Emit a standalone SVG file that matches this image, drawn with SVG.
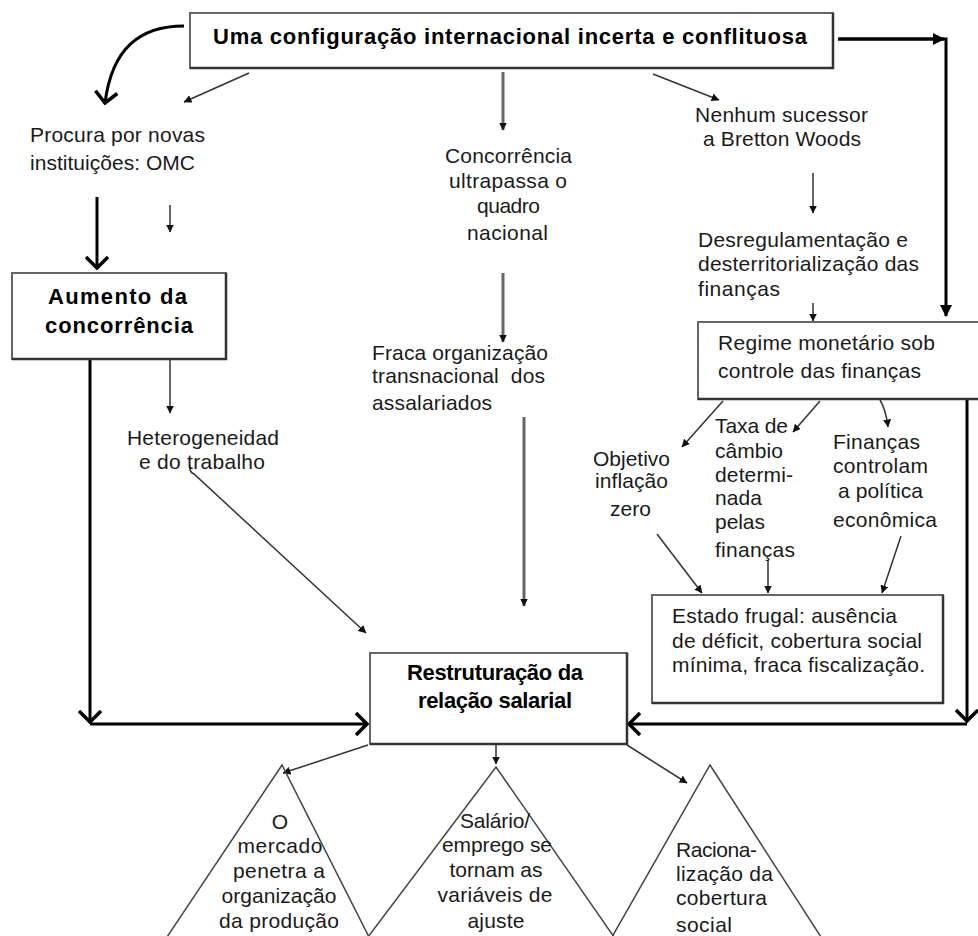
<svg xmlns="http://www.w3.org/2000/svg" width="978" height="936" viewBox="0 0 978 936">
  <style>
    .t { font-family: "Liberation Sans", Arial, sans-serif; font-size: 21px; fill: #1a1a1a; }
    .b { font-weight: bold; font-size: 22px; fill: #000; }
    .c { text-anchor: middle; }
    .box { fill: #fff; stroke: #666; stroke-width: 2; }
    .edge { stroke: #333; stroke-width: 2.5; fill: none; }
    .thick { stroke: #000; stroke-width: 3; fill: none; }
    .thin { stroke: #333; stroke-width: 1.5; fill: none; }
    .gray { stroke: #666; stroke-width: 3; fill: none; }
    .tri { stroke: #444; stroke-width: 1.5; fill: none; }
  </style>
  <defs>
    <marker id="vee" viewBox="0 0 14 24" markerWidth="14" markerHeight="24" refX="12" refY="12" orient="auto" markerUnits="userSpaceOnUse">
      <path d="M1,1 L12,12 L1,23" fill="none" stroke="#000" stroke-width="3.5"/>
    </marker>
    <marker id="solid" viewBox="0 0 12 12" markerWidth="12" markerHeight="12" refX="11" refY="6" orient="auto" markerUnits="userSpaceOnUse">
      <path d="M0,0 L12,6 L0,12 z" fill="#000"/>
    </marker>
    <marker id="small" viewBox="0 0 8 8" markerWidth="8" markerHeight="8" refX="7.5" refY="4" orient="auto" markerUnits="userSpaceOnUse">
      <path d="M0,0 L8,4 L0,8 z" fill="#111"/>
    </marker>
  </defs>

  <!-- connectors -->
  <g id="connectors">
    <path class="thick" d="M184,26 C140,26 112,48 105,103" marker-end="url(#vee)"/>
    <line class="thin" x1="249" y1="73" x2="184" y2="102" marker-end="url(#small)"/>
    <line class="gray" x1="503" y1="72" x2="503" y2="130" marker-end="url(#small)"/>
    <line class="thin" x1="653" y1="74" x2="719" y2="100" marker-end="url(#small)"/>
    <polyline class="thick" points="838,39 946,39 946,316" marker-end="url(#solid)"/>
    <line class="thick" x1="838" y1="39" x2="944" y2="39" marker-end="url(#solid)"/>
    <line class="thick" x1="97" y1="197" x2="97" y2="268" marker-end="url(#vee)"/>
    <line class="thin" x1="170" y1="205" x2="170" y2="232" marker-end="url(#small)"/>
    <line class="thin" x1="813" y1="173" x2="813" y2="213" marker-end="url(#small)"/>
    <line class="gray" x1="503" y1="273" x2="503" y2="342" marker-end="url(#small)"/>
    <line class="thin" x1="813" y1="303" x2="813" y2="321" marker-end="url(#small)"/>
    <line class="thin" x1="723" y1="401" x2="682" y2="447" marker-end="url(#small)"/>
    <line class="thin" x1="820" y1="401" x2="793" y2="432" marker-end="url(#small)"/>
    <path class="thin" d="M880,400 Q886,410 888,427" marker-end="url(#small)"/>
    <line class="thick" x1="90" y1="359" x2="90" y2="722" marker-end="url(#vee)"/>
    <line class="thick" x1="90" y1="724" x2="367" y2="724" marker-end="url(#vee)"/>
    <line class="thin" x1="170" y1="355" x2="170" y2="413" marker-end="url(#small)"/>
    <path class="thin" d="M190,466 Q189,472 194,474 L366,633" marker-end="url(#small)"/>
    <line class="gray" x1="524" y1="417" x2="524" y2="606" marker-end="url(#small)"/>
    <line class="thick" x1="967" y1="400" x2="967" y2="721" marker-end="url(#vee)"/>
    <line class="thick" x1="967" y1="724" x2="629" y2="724" marker-end="url(#vee)"/>
    <line class="thin" x1="657" y1="534" x2="702" y2="593" marker-end="url(#small)"/>
    <line class="thin" x1="768" y1="560" x2="768" y2="593" marker-end="url(#small)"/>
    <line class="thin" x1="901" y1="536" x2="882" y2="593" marker-end="url(#small)"/>
    <line class="thin" x1="368" y1="745" x2="283" y2="773" marker-end="url(#small)"/>
    <line class="thin" x1="496" y1="745" x2="496" y2="764" marker-end="url(#small)"/>
    <line class="thin" x1="627" y1="745" x2="687" y2="783" marker-end="url(#small)"/>
  </g>

  <!-- top box -->
  <g id="config">
    <rect class="box" x="190" y="13" width="643" height="55"/>
    <path class="edge" d="M190,68 H833 V13"/>
    <text class="t b" x="213" y="44" textLength="594">Uma configuração internacional incerta e conflituosa</text>
  </g>

  <g id="procura">
    <text class="t" x="30" y="142" textLength="175">Procura por novas</text>
    <text class="t" x="30" y="170" textLength="165">instituições: OMC</text>
  </g>

  <g id="concorrencia-nacional">
    <text class="t" x="445" y="163" textLength="127">Concorrência</text>
    <text class="t" x="449" y="188" textLength="118">ultrapassa o</text>
    <text class="t" x="477" y="213" textLength="63">quadro</text>
    <text class="t" x="467" y="240" textLength="81">nacional</text>
  </g>

  <g id="bretton">
    <text class="t" x="695" y="122" textLength="173">Nenhum sucessor</text>
    <text class="t" x="703" y="146" textLength="158">a Bretton Woods</text>
  </g>

  <g id="desregulamentacao">
    <text class="t" x="698" y="247" textLength="210">Desregulamentação e</text>
    <text class="t" x="698" y="271" textLength="221">desterritorialização das</text>
    <text class="t" x="698" y="296" textLength="82">finanças</text>
  </g>

  <g id="aumento">
    <rect class="box" x="12" y="273" width="214" height="86"/>
    <path class="edge" d="M12,359 H226 V273"/>
    <text class="t b" x="48" y="304" textLength="139">Aumento da</text>
    <text class="t b" x="45" y="333" textLength="148">concorrência</text>
  </g>

  <g id="regime">
    <rect class="box" x="698" y="322" width="300" height="77"/>
    <path class="edge" d="M698,399 H978"/>
    <text class="t" x="718" y="350" textLength="217">Regime monetário sob</text>
    <text class="t" x="718" y="378" textLength="203">controle das finanças</text>
  </g>

  <g id="fraca">
    <text class="t" x="372" y="360" textLength="176">Fraca organização</text>
    <text class="t" x="372" y="383" textLength="173" xml:space="preserve">transnacional  dos</text>
    <text class="t" x="372" y="410" textLength="120">assalariados</text>
  </g>

  <g id="heterogeneidade">
    <text class="t" x="127" y="445" textLength="152">Heterogeneidad</text>
    <text class="t" x="139" y="469" textLength="126">e do trabalho</text>
  </g>

  <g id="objetivo">
    <text class="t" x="593" y="466" textLength="77">Objetivo</text>
    <text class="t" x="595" y="488" textLength="73">inflação</text>
    <text class="t" x="610" y="516" textLength="41">zero</text>
  </g>

  <g id="taxa">
    <text class="t" x="715" y="433" textLength="73">Taxa de</text>
    <text class="t" x="715" y="458" textLength="68">câmbio</text>
    <text class="t" x="715" y="482" textLength="78">determi-</text>
    <text class="t" x="715" y="505" textLength="47">nada</text>
    <text class="t" x="715" y="529" textLength="50">pelas</text>
    <text class="t" x="715" y="557" textLength="80">finanças</text>
  </g>

  <g id="financas-controlam">
    <text class="t" x="833" y="449" textLength="87">Finanças</text>
    <text class="t" x="833" y="473" textLength="95">controlam</text>
    <text class="t" x="838" y="498" textLength="85">a política</text>
    <text class="t" x="833" y="527" textLength="104">econômica</text>
  </g>

  <g id="estado">
    <rect class="box" x="652" y="595" width="291" height="108"/>
    <path class="edge" d="M652,703 H943 V595"/>
    <text class="t" x="672" y="623" textLength="225">Estado frugal: ausência</text>
    <text class="t" x="672" y="648" textLength="250">de déficit, cobertura social</text>
    <text class="t" x="672" y="672" textLength="253">mínima, fraca fiscalização.</text>
  </g>

  <g id="restruturacao">
    <rect class="box" x="370" y="653" width="257" height="91"/>
    <path class="edge" d="M370,744 H627 V653"/>
    <text class="t b" x="407" y="680" textLength="176">Restruturação da</text>
    <text class="t b" x="418" y="708" textLength="154">relação salarial</text>
  </g>

  <g id="mercado">
    <polyline class="tri" points="167,937 282,765 369,937"/>
    <text class="t c" x="280" y="829">O</text>
    <text class="t c" x="280" y="853" textLength="85">mercado</text>
    <text class="t c" x="279" y="878" textLength="92">penetra a</text>
    <text class="t c" x="279" y="903" textLength="115">organização</text>
    <text class="t c" x="279" y="928" textLength="120">da produção</text>
  </g>

  <g id="salario">
    <polyline class="tri" points="368,937 496,767 614,937"/>
    <text class="t c" x="495" y="828" textLength="70">Salário/</text>
    <text class="t c" x="497" y="852" textLength="110">emprego se</text>
    <text class="t c" x="496" y="877" textLength="93">tornam as</text>
    <text class="t c" x="495" y="902" textLength="115">variáveis de</text>
    <text class="t c" x="496" y="928" textLength="57">ajuste</text>
  </g>

  <g id="racionalizacao">
    <polyline class="tri" points="612,937 710,765 821,937"/>
    <text class="t" x="676" y="857" textLength="81">Raciona-</text>
    <text class="t" x="676" y="881" textLength="97">lização da</text>
    <text class="t" x="676" y="905" textLength="91">cobertura</text>
    <text class="t" x="676" y="932" textLength="56">social</text>
  </g>
</svg>
